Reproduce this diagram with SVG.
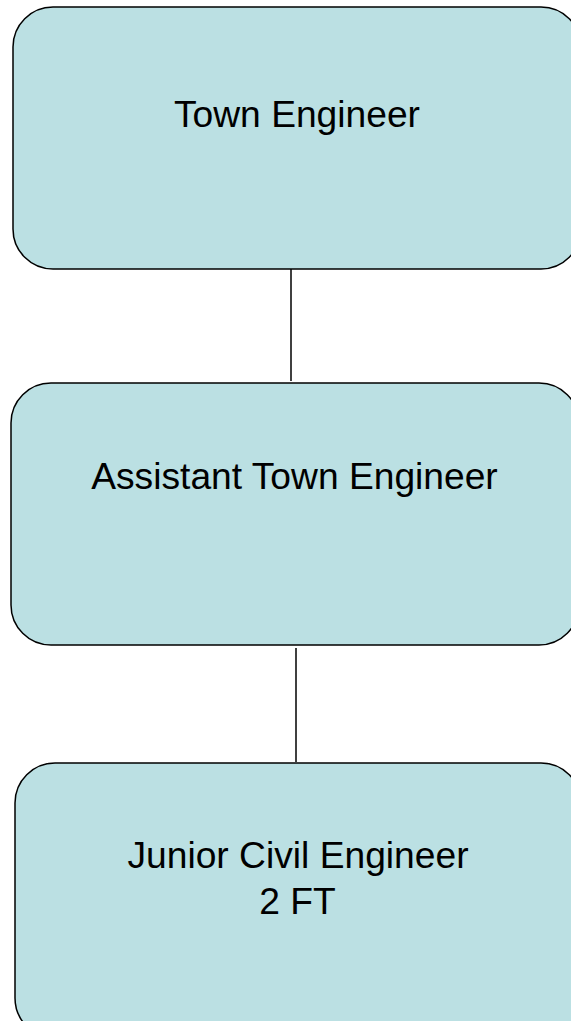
<svg xmlns="http://www.w3.org/2000/svg" width="571" height="1021" viewBox="0 0 571 1021">
<style>
.box{fill:#BBE0E3;stroke:#000;stroke-width:1.5}
.lbl{font-family:"Liberation Sans",Arial,sans-serif;font-size:37.2px;fill:#000;text-anchor:middle}
.conn{stroke:#000;stroke-width:1.5;fill:none}
</style>
<rect width="571" height="1021" fill="#fff"/>
<g id="connectors">
<line class="conn" x1="291" y1="269" x2="291" y2="381"/>
<line class="conn" x1="296" y1="648" x2="296" y2="762"/>
</g>
<g id="town-engineer">
<rect class="box" x="13" y="7" width="568" height="262" rx="40" ry="40"/>
<text class="lbl" x="297" y="127">Town Engineer</text>
</g>
<g id="assistant-town-engineer">
<rect class="box" x="11" y="383" width="568" height="262" rx="40" ry="40"/>
<text class="lbl" x="294.5" y="489">Assistant Town Engineer</text>
</g>
<g id="junior-civil-engineer">
<rect class="box" x="15" y="763" width="566" height="275" rx="40" ry="40"/>
<text class="lbl" x="298" y="868">Junior Civil Engineer</text>
<text class="lbl" x="297.5" y="914">2 FT</text>
</g>
</svg>
